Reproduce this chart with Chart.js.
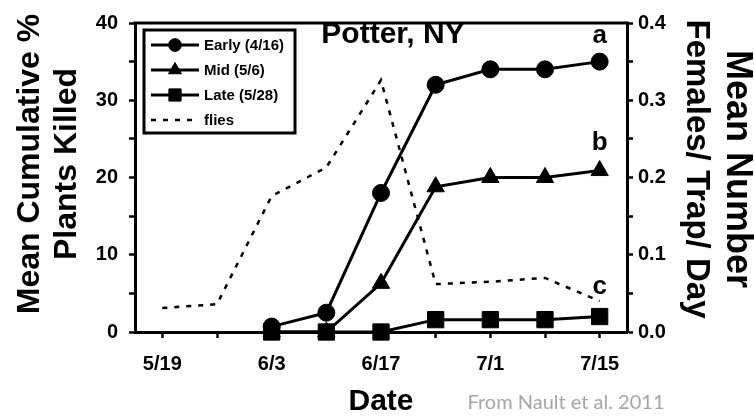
<!DOCTYPE html>
<html>
<head>
<meta charset="utf-8">
<script src="https://cdn.jsdelivr.net/npm/chart.js@4.4.1/dist/chart.umd.min.js"></script>
<style>
  html, body { margin: 0; padding: 0; background: #fff; }
  canvas { display: block; }
</style>
</head>
<body>
<canvas id="chart" width="754" height="417"></canvas>
<script>
// weekly sampling dates, only every other one is labelled
const dateLabels = ['5/19', '', '6/3', '', '6/17', '', '7/1', '', '7/15'];

// mean cumulative % plants killed
const earlyKilled = [null, null, 0.7, 2.5, 18, 32, 34, 34, 35];
const midKilled   = [null, null, 0, 0, 6.3, 18.8, 20, 20, 20.9];
const lateKilled  = [null, null, 0, 0, 0, 1.6, 1.6, 1.6, 2];

// mean number females / trap / day
const flies = [0.031, 0.036, 0.176, 0.213, 0.326, 0.062, 0.065, 0.070, 0.040];

const seriesNames = ['Early (4/16)', 'Mid (5/6)', 'Late (5/28)', 'flies'];
const letters = ['a', 'b', 'c'];
const leftTitle = ['Mean Cumulative %', 'Plants Killed'];
const rightTitle = ['Mean Number', 'Females/ Trap/ Day'];

const FONT = "'Liberation Sans', Arial, sans-serif";

// frame, titles, legend and letters
const extras = {
  id: 'extras',
  afterDraw(chart) {
    const ctx = chart.ctx;
    const a = chart.chartArea;
    ctx.save();

    // top frame line
    ctx.strokeStyle = '#000';
    ctx.lineWidth = 3;
    ctx.beginPath();
    ctx.moveTo(a.left - 1.5, a.top);
    ctx.lineTo(a.right + 1.5, a.top);
    ctx.stroke();

    ctx.fillStyle = '#000';
    ctx.textAlign = 'center';
    ctx.textBaseline = 'middle';

    // y axis titles
    ctx.font = 'bold 32px ' + FONT;
    leftTitle.forEach((t, i) => {
      ctx.save();
      ctx.translate(30 + i * 37, 164);
      ctx.rotate(-Math.PI / 2);
      ctx.fillText(t, 0, 0);
      ctx.restore();
    });
    const rightSizes = [36, 33];
    rightTitle.forEach((t, i) => {
      ctx.save();
      ctx.font = 'bold ' + rightSizes[i] + 'px ' + FONT;
      ctx.translate(737 - i * 41, 169);
      ctx.rotate(Math.PI / 2);
      ctx.fillText(t, 0, 0);
      ctx.restore();
    });

    // title
    ctx.font = 'bold 30px ' + FONT;
    ctx.fillText('Potter, NY', 393, 35);

    // significance letters next to the last points
    const xs = chart.scales.x;
    const ys = chart.scales.y;
    const lastIdx = dateLabels.length - 1;
    const lastVals = [earlyKilled[lastIdx], midKilled[lastIdx], lateKilled[lastIdx]];
    const lift = [26, 28, 30];
    ctx.font = 'bold 26px ' + FONT;
    letters.forEach((l, i) => {
      ctx.fillText(l, xs.getPixelForValue(lastIdx), ys.getPixelForValue(lastVals[i]) - lift[i]);
    });

    // legend box
    const bx = a.left + 9, by = a.top + 7, bw = 151, bh = 103;
    ctx.fillStyle = '#fff';
    ctx.fillRect(bx, by, bw, bh);
    ctx.lineWidth = 3;
    ctx.strokeRect(bx, by, bw, bh);

    ctx.font = 'bold 15px ' + FONT;
    ctx.textAlign = 'left';
    chart.data.datasets.forEach((ds, i) => {
      const y = by + 15 + i * 25;
      ctx.strokeStyle = '#000';
      ctx.lineWidth = ds.borderWidth;
      ctx.setLineDash(ds.borderDash || []);
      ctx.beginPath();
      ctx.moveTo(bx + 7, y);
      ctx.lineTo(bx + 55, y);
      ctx.stroke();
      ctx.setLineDash([]);
      if (ds.pointRadius > 0) {
        ctx.fillStyle = '#000';
        ctx.lineWidth = 1;
        Chart.helpers.drawPoint(ctx, {
          pointStyle: ds.pointStyle,
          radius: ds.pointRadius * 0.75,
          borderWidth: 1,
          rotation: 0
        }, bx + 31, y);
      }
      ctx.fillStyle = '#000';
      ctx.fillText(ds.label, bx + 60, y + 1);
    });

    // source note
    ctx.font = '20px Lato, ' + FONT;
    ctx.fillStyle = '#a6a6a6';
    ctx.textAlign = 'center';
    ctx.fillText('From Nault et al. 2011', 566, 403);

    ctx.restore();
  }
};

const solid = (label, data, style, radius) => ({
  label: label,
  data: data,
  yAxisID: 'y',
  borderColor: '#000',
  backgroundColor: '#000',
  borderWidth: 3,
  pointStyle: style,
  pointRadius: radius,
  pointBackgroundColor: '#000',
  pointBorderColor: '#000',
  pointBorderWidth: 1,
  tension: 0
});

const tickFont = { family: FONT, size: 20, weight: 'bold' };

new Chart(document.getElementById('chart'), {
  type: 'line',
  data: {
    labels: dateLabels,
    datasets: [
      solid(seriesNames[0], earlyKilled, 'circle', 8.5),
      solid(seriesNames[1], midKilled, 'triangle', 10),
      solid(seriesNames[2], lateKilled, 'rect', 11.5),
      {
        label: seriesNames[3],
        data: flies,
        yAxisID: 'y2',
        borderColor: '#000',
        borderWidth: 2.5,
        borderDash: [5, 7],
        pointRadius: 0,
        tension: 0
      }
    ]
  },
  plugins: [extras],
  options: {
    responsive: false,
    animation: false,
    clip: false,
    layout: { padding: { top: 15, left: 0, right: 0, bottom: 0 } },
    plugins: {
      legend: { display: false },
      tooltip: { enabled: false }
    },
    scales: {
      x: {
        type: 'category',
        offset: true,
        grid: { offset: false, drawOnChartArea: false, tickLength: 6, tickWidth: 2.5, tickColor: '#000' },
        border: { color: '#000', width: 3 },
        ticks: { autoSkip: false, maxRotation: 0, padding: 14, color: '#000', font: tickFont },
        title: {
          display: true, text: 'Date', color: '#000',
          font: { family: FONT, size: 30, weight: 'bold', lineHeight: 1 },
          padding: { top: 0, bottom: 0 }
        },
        afterFit: s => { s.height = 85; }
      },
      y: {
        position: 'left',
        min: 0, max: 40,
        grid: { drawOnChartArea: false, tickLength: 6, tickWidth: 2.5, tickColor: '#000' },
        border: { color: '#000', width: 3 },
        ticks: {
          stepSize: 5, padding: 11, color: '#000', font: tickFont,
          callback: v => (v % 10 === 0 ? v : '')
        },
        afterFit: s => { s.width = 135; }
      },
      y2: {
        position: 'right',
        min: 0, max: 0.4,
        grid: { drawOnChartArea: false, tickLength: 6, tickWidth: 2.5, tickColor: '#000' },
        border: { color: '#000', width: 3 },
        ticks: {
          stepSize: 0.05, padding: 5, color: '#000', font: tickFont,
          callback: v => (Math.round(v * 100) % 10 === 0 ? v.toFixed(1) : '')
        },
        afterFit: s => { s.width = 127; }
      }
    }
  }
});
</script>
</body>
</html>
